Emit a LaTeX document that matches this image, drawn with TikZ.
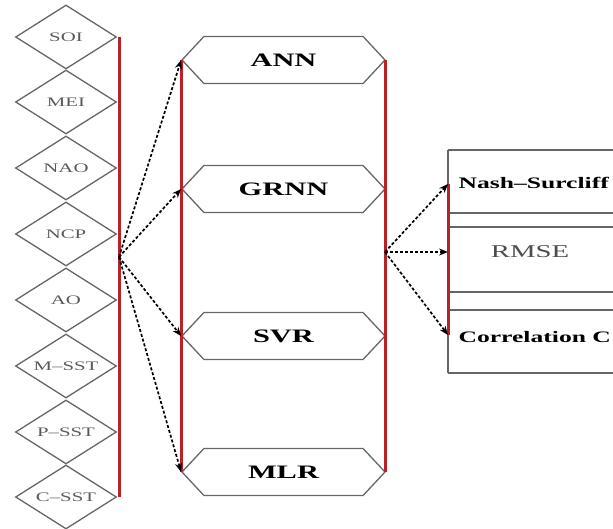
\documentclass[tikz,border=0pt]{standalone}
\usepackage{fontspec}
\setmainfont{Liberation Serif}
\usepackage{graphicx}
\usepackage{xcolor}
\usepackage{tikz}
\usetikzlibrary{shapes.geometric,shapes.symbols,arrows.meta}

\definecolor{barred}{RGB}{185,35,40}
\newcommand{\wide}[1]{\scalebox{1.6}[1]{#1}}

\tikzset{
  index/.style={diamond, aspect=1.6, draw=black!60, line width=1.3pt, inner sep=0pt,
    minimum width=101pt, minimum height=64pt, text=black!65,
    font=\fontsize{13}{14}\selectfont},
  model/.style={signal, signal to=west and east, signal pointer angle=94,
    draw=black!60, line width=1.3pt, inner sep=0pt, minimum width=203pt,
    minimum height=47pt, font=\fontsize{19}{20}\selectfont\bfseries},
  bar/.style={barred, line width=3pt},
  link/.style={dash pattern=on 3pt off 2pt, line width=1.7pt,
    -{Stealth[length=9pt,width=7pt]}}
}

\begin{document}
\begin{tikzpicture}[x=1pt, y=-1pt]
  \useasboundingbox (0,0) rectangle (613,529);
  \clip (0,0) rectangle (613,529);

  % input indices
  \node[index] (soi)  at (66, 37)  {\wide{SOI}};
  \node[index] (mei)  at (66,102)  {\wide{MEI}};
  \node[index] (nao)  at (66,168)  {\wide{NAO}};
  \node[index] (ncp)  at (66,234)  {\wide{NCP}};
  \node[index] (ao)   at (66,300)  {\wide{AO}};
  \node[index] (msst) at (66,366)  {\wide{M--SST}};
  \node[index] (psst) at (66,432)  {\wide{P--SST}};
  \node[index] (csst) at (66,497)  {\wide{C--SST}};

  % models
  \node[model] (ann)  at (283.5, 60) {\wide{ANN}};
  \node[model] (grnn) at (283.5,189) {\wide{GRNN}};
  \node[model] (svr)  at (283.5,336) {\wide{SVR}};
  \node[model] (mlr)  at (283.5,472) {\wide{MLR}};

  % criteria box
  \draw[black!60, line width=1.3pt] (448,150) -- (640,150) (448,213) -- (640,213)
    (448,227) -- (640,227) (448,292) -- (640,292) (448,310) -- (640,310)
    (448,373) -- (640,373) (448,150) -- (448,373);
  \node[anchor=west, font=\fontsize{16}{17}\selectfont\bfseries] (nash) at (455,183)
    {\wide{Nash--Surcliff}};
  \node[font=\fontsize{18}{19}\selectfont, text=black!70] (rmse) at (530,252) {\wide{RMSE}};
  \node[anchor=west, font=\fontsize{16}{17}\selectfont\bfseries] (corr) at (455,337)
    {\wide{Correlation C}};

  \coordinate (fanL) at (119,257);
  \coordinate (fanR) at (385,252);
  \coordinate (tNash) at (448,184);
  \coordinate (tRmse) at (448,252);
  \coordinate (tCorr) at (448,335);

  % bars
  \draw[bar] (119,37) -- (119,497);
  \draw[bar] (ann.west) -- (mlr.west);
  \draw[bar] (ann.east) -- (mlr.east);
  \draw[bar] (tNash) -- (tCorr);

  % links
  \draw[link] (fanL) -- (ann.west);
  \draw[link] (fanL) -- (grnn.west);
  \draw[link] (fanL) -- (svr.west);
  \draw[link] (fanL) -- (mlr.west);
  \draw[link] (fanR) -- (tNash);
  \draw[link] (fanR) -- (tRmse);
  \draw[link] (fanR) -- (tCorr);
\end{tikzpicture}
\end{document}
